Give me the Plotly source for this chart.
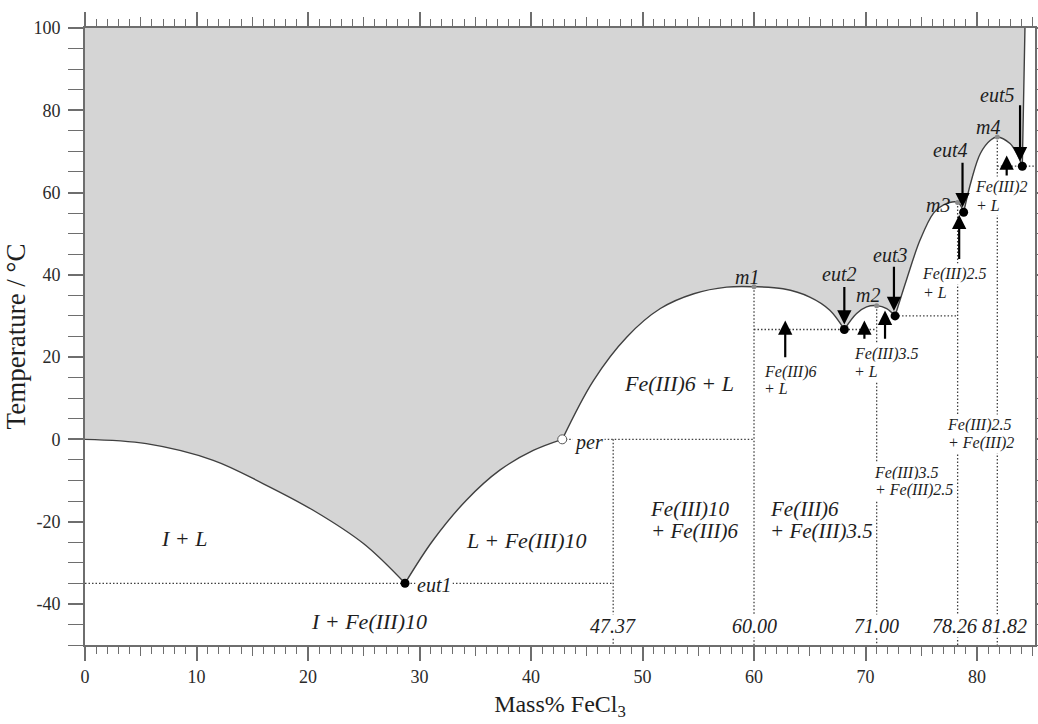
import plotly.graph_objects as go

# ---- axis limits -------------------------------------------------------
X_MIN, X_MAX = 0.0, 85.2
T_MIN, T_MAX = -50.0, 100.0

# ---- liquidus branches: mass % FeCl3 vs temperature / degC --------------
ice_x = [0.0, 5.5, 11.5, 16.0, 20.5, 25.0, 28.7]
ice_t = [0.0, -1.05, -5.1, -10.8, -17.3, -25.4, -35.0]

fe10_x = [28.7, 31.2, 34.2, 37.2, 40.2, 42.8]
fe10_t = [-35.0, -24.6, -14.8, -7.5, -2.7, 0.0]

fe6_x = [42.8, 45.6, 48.6, 51.6, 54.6, 57.55, 60.0, 62.6, 65.0, 66.8, 68.1]
fe6_t = [0.0, 14.3, 24.9, 31.8, 35.4, 37.0, 37.1, 36.6, 34.6, 31.4, 26.7]

fe35_x = [68.1, 69.2, 70.1, 71.0, 71.9, 72.65]
fe35_t = [26.7, 30.6, 32.2, 32.5, 31.8, 30.0]

fe25_x = [72.65, 73.7, 74.9, 76.1, 77.0, 78.26, 78.8]
fe25_t = [30.0, 39.0, 48.5, 55.0, 57.0, 57.6, 55.2]

fe2_x = [78.8, 79.5, 80.3, 81.2, 81.82, 82.96, 83.56, 84.06]
fe2_t = [55.2, 63.0, 69.5, 72.7, 73.5, 71.9, 69.5, 66.4]

anh_x = [84.06, 84.3]
anh_t = [66.4, 100.0]

# ---- invariant points ----------------------------------------------------
eut_names = ["eut1", "eut2", "eut3", "eut4", "eut5"]
eut_x = [28.7, 68.1, 72.65, 78.8, 84.06]
eut_t = [-35.0, 26.7, 30.0, 55.2, 66.4]

max_names = ["m1", "m2", "m3", "m4"]
max_x = [60.00, 71.00, 78.26, 81.82]
max_t = [37.1, 32.5, 57.6, 73.5]

per_x, per_t = 42.8, 0.0

# hydrate compositions (Fe(III)10, 6, 3.5, 2.5, 2) and where their values are printed
hydrate_x = [47.37, 60.00, 71.00, 78.26, 81.82]
hydrate_label_x = [47.37, 60.05, 70.95, 78.0, 82.45]
HYDRATE_LABEL_T = -45.4

# ---- arrows (x, head temperature, tail temperature) ----------------------
arrow_x = [68.1, 62.8, 69.9, 71.75, 72.55, 78.7, 78.4, 83.86, 82.66]
arrow_head = [27.9, 28.9, 28.9, 31.3, 31.2, 56.4, 54.6, 67.6, 69.0]
arrow_tail = [37.4, 19.6, 24.1, 24.1, 42.3, 67.6, 43.5, 81.6, 63.8]

# ---- tick labels -------------------------------------------------------
x_ticks = [0, 10, 20, 30, 40, 50, 60, 70, 80]
x_mid_ticks = [5, 15, 25, 35, 45, 55, 65, 75, 85]
y_ticks = [-40, -20, 0, 20, 40, 60, 80, 100]
y_tick_text = ["-40", "-20", "0", "20", "40", "60", "80", "100"]

# ---- text labels: (text, x, y, size, xanchor, white background) --------
region_labels = [
    ("I + L", 8.9, -24.1, 22, "center", False),
    ("L + Fe(III)10", 39.6, -24.6, 22, "center", False),
    ("I + Fe(III)10", 25.5, -44.4, 22, "center", False),
    ("Fe(III)6 + L", 53.3, 13.5, 22, "center", False),
    ("Fe(III)10", 50.5, -16.9, 21, "left", False),
    ("+ Fe(III)6", 50.6, -22.3, 21, "left", False),
    ("Fe(III)6", 61.25, -16.9, 21, "left", False),
    ("+ Fe(III)3.5", 61.25, -22.3, 21, "left", False),
]
small_labels = [
    ("Fe(III)6", 60.7, 16.4, 16, "left", False),
    ("+ L", 60.75, 12.3, 16, "left", False),
    ("Fe(III)3.5", 68.75, 20.8, 16, "left", True),
    ("+ L", 68.8, 16.4, 16, "left", True),
    ("Fe(III)2.5", 74.9, 40.3, 16, "left", True),
    ("+ L", 75.0, 35.8, 16, "left", True),
    ("Fe(III)2", 79.67, 61.3, 16, "left", True),
    ("+ L", 79.7, 56.9, 16, "left", True),
    ("Fe(III)3.5", 70.6, -8.3, 16, "left", True),
    ("+ Fe(III)2.5", 70.7, -12.4, 16, "left", True),
    ("Fe(III)2.5", 77.1, 3.4, 16, "left", True),
    ("+ Fe(III)2", 77.2, -0.9, 16, "left", True),
]
point_labels = [
    ("eut1", 29.6, -35.5, 20, "left", True),
    ("per", 43.65, -0.65, 20, "left", True),
    ("m1", 59.4, 39.5, 20, "center", False),
    ("eut2", 67.6, 40.3, 20, "center", False),
    ("m2", 70.25, 35.0, 20, "center", False),
    ("eut3", 72.2, 44.7, 20, "center", False),
    ("m3", 76.5, 56.9, 20, "center", False),
    ("eut4", 77.6, 70.3, 20, "center", False),
    ("m4", 81.0, 75.9, 20, "center", False),
    ("eut5", 81.76, 83.6, 20, "center", False),
]

# ---- styling -----------------------------------------------------------
FONT = "Liberation Serif, Times New Roman, serif"
GRAY_FILL = "#d5d5d5"
CURVE = "#404040"
AXIS = "#6e6e6e"
TEXT = "#1e1e1e"

fig = go.Figure()

branches = [(ice_x, ice_t), (fe10_x, fe10_t), (fe6_x, fe6_t), (fe35_x, fe35_t),
            (fe25_x, fe25_t), (fe2_x, fe2_t), (anh_x, anh_t)]

# whole liquidus as one path; the shared end points of adjacent branches are kept
# twice so the spline keeps a sharp corner at every invariant point
liq_x, liq_t = [], []
for bx, bt in branches:
    liq_x += bx
    liq_t += bt

# upper edge of the liquid field, then the liquidus filled up to it
fig.add_trace(go.Scatter(x=[X_MIN, anh_x[-1]], y=[T_MAX, T_MAX], mode="lines",
                         line=dict(width=0), hoverinfo="skip"))
fig.add_trace(go.Scatter(x=liq_x, y=liq_t, mode="lines",
                         line=dict(width=0, shape="spline", smoothing=1.0, simplify=False),
                         fill="tonexty", fillcolor=GRAY_FILL, hoverinfo="skip"))

# dotted tie lines and hydrate composition lines
dot_style = dict(color="#404040", width=1.3, dash="1.5px,2px")
ties = [
    ([X_MIN, hydrate_x[0]], [eut_t[0], eut_t[0]]),
    ([per_x, hydrate_x[1]], [per_t, per_t]),
    ([hydrate_x[1], hydrate_x[2]], [eut_t[1], eut_t[1]]),
    ([eut_x[2], hydrate_x[3]], [eut_t[2], eut_t[2]]),
    ([hydrate_x[4], X_MAX], [eut_t[4], eut_t[4]]),
    ([hydrate_x[0], hydrate_x[0]], [per_t, T_MIN]),
]
for hx, ht in zip(max_x, max_t):
    ties.append(([hx, hx], [ht, T_MIN]))
for tx, tt in ties:
    fig.add_trace(go.Scatter(x=tx, y=tt, mode="lines", line=dot_style, hoverinfo="skip"))

# liquidus curve
fig.add_trace(go.Scatter(x=liq_x, y=liq_t, mode="lines",
                         line=dict(color=CURVE, width=1.4, shape="spline", smoothing=1.0,
                                   simplify=False),
                         hoverinfo="skip"))

# invariant points
fig.add_trace(go.Scatter(x=max_x, y=max_t, mode="markers",
                         marker=dict(size=5, color="#8c8c8c"), hoverinfo="skip"))
fig.add_trace(go.Scatter(x=[per_x], y=[per_t], mode="markers",
                         marker=dict(size=9, color="white", line=dict(color="#555555", width=1)),
                         hoverinfo="skip"))
fig.add_trace(go.Scatter(x=eut_x, y=eut_t, mode="markers",
                         marker=dict(size=9, color="black"), hoverinfo="skip"))

# secondary x axis carrying the medium ticks at every 5 %
fig.add_trace(go.Scatter(x=[X_MIN], y=[T_MIN], xaxis="x2", mode="markers",
                         marker=dict(size=0.1, opacity=0), hoverinfo="skip"))

annotations = []
for text, x, y, size, anchor, bg in region_labels + small_labels + point_labels:
    annotations.append(dict(
        x=x, y=y, xref="x", yref="y", text=text, showarrow=False,
        xanchor=anchor, yanchor="middle",
        font=dict(family=FONT, size=size, color=TEXT, style="italic"),
        bgcolor="white" if bg else "rgba(0,0,0,0)", borderpad=1))
for hx, lx in zip(hydrate_x, hydrate_label_x):
    annotations.append(dict(
        x=lx, y=HYDRATE_LABEL_T, xref="x", yref="y", text=f"{hx:.2f}", showarrow=False,
        xanchor="center", yanchor="middle",
        font=dict(family=FONT, size=20, color=TEXT, style="italic"),
        bgcolor="white", borderpad=0))
for ax_x, head, tail in zip(arrow_x, arrow_head, arrow_tail):
    annotations.append(dict(
        x=ax_x, y=head, ax=ax_x, ay=tail, xref="x", yref="y", axref="x", ayref="y",
        text="", showarrow=True, arrowhead=2, arrowsize=1.3, arrowwidth=2.2,
        arrowcolor="black", standoff=0))

tick_font = dict(family=FONT, size=18, color="#2a2a2a")

fig.update_layout(
    width=1038, height=724,
    margin=dict(l=85, r=3, t=28, b=79, autoexpand=False),
    paper_bgcolor="white", plot_bgcolor="white",
    showlegend=False,
    font=dict(family=FONT, size=18, color=TEXT),
    annotations=annotations,
    xaxis=dict(
        range=[X_MIN, X_MAX], tickmode="array", tickvals=x_ticks,
        ticktext=[str(v) for v in x_ticks], tickfont=tick_font,
        ticks="outside", ticklen=14, tickwidth=1.5, tickcolor=AXIS,
        ticklabelstandoff=0, automargin=False,
        showline=True, linewidth=2, linecolor=AXIS, mirror="allticks",
        showgrid=False, zeroline=False,
        minor=dict(ticks="outside", tickmode="linear", tick0=0, dtick=1,
                   ticklen=7, tickwidth=1.2, tickcolor=AXIS, showgrid=False),
        title=dict(text="Mass% FeCl<sub>3</sub>", font=dict(family=FONT, size=24, color=TEXT),
                   standoff=10),
    ),
    xaxis2=dict(
        range=[X_MIN, X_MAX], overlaying="x", anchor="y", side="bottom",
        tickmode="array", tickvals=x_mid_ticks, showticklabels=False,
        ticks="outside", ticklen=10, tickwidth=1.3, tickcolor=AXIS, automargin=False,
        showline=False, mirror="allticks", showgrid=False, zeroline=False,
    ),
    yaxis=dict(
        range=[T_MIN, T_MAX], tickmode="array", tickvals=y_ticks, ticktext=y_tick_text,
        tickfont=tick_font, ticks="outside", ticklen=15, tickwidth=1.5, tickcolor=AXIS,
        ticklabelstandoff=4, automargin=False,
        showline=True, linewidth=2, linecolor=AXIS, mirror="allticks",
        showgrid=False, zeroline=False,
        minor=dict(ticks="outside", tickmode="linear", tick0=0, dtick=5,
                   ticklen=7, tickwidth=1.2, tickcolor=AXIS, showgrid=False),
        title=dict(text="Temperature / °C", font=dict(family=FONT, size=27, color=TEXT),
                   standoff=0),
    ),
)

fig.write_html("out.html")
